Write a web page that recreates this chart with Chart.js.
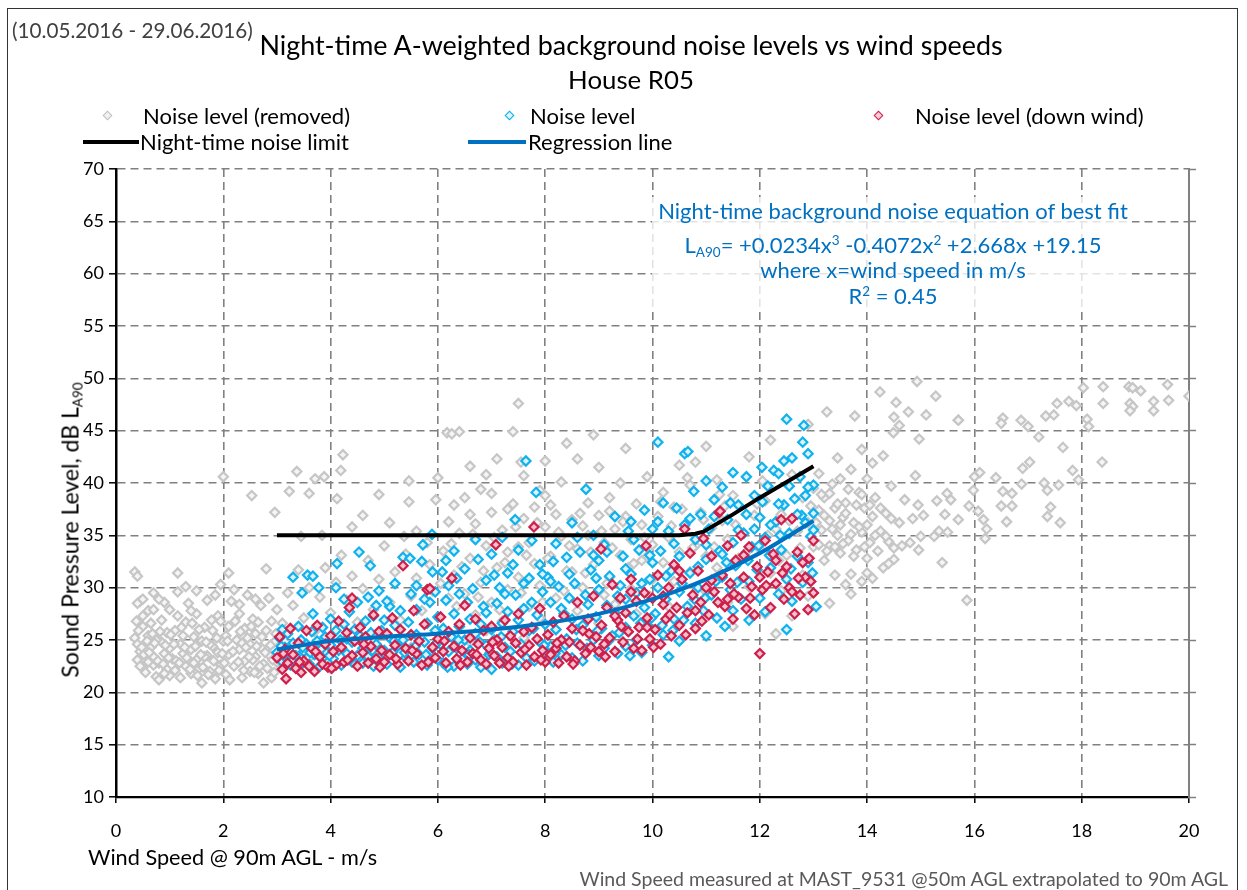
<!DOCTYPE html>
<html>
<head>
<meta charset="utf-8">
<script src="https://cdn.jsdelivr.net/npm/chart.js@4.4.1/dist/chart.umd.min.js"></script>
<style>
  html,body{margin:0;padding:0;background:#fff;}
  body{width:1247px;height:890px;position:relative;overflow:hidden;font-family:Lato,"Open Sans",sans-serif;}
  #frame{position:absolute;left:7px;top:8px;width:1231px;height:900px;border:1.5px solid #333;box-sizing:border-box;}
  #c{position:absolute;left:0;top:0;}
  .t{position:absolute;white-space:nowrap;color:#000;line-height:1;}
  .lg{position:absolute;white-space:nowrap;font-size:22px;line-height:1;}
  .dia{position:absolute;width:5px;height:5px;border:1.7px solid;transform:rotate(45deg);}
  .ln{position:absolute;height:4px;}
  #annbox{position:absolute;left:652px;top:197px;width:480px;height:112px;background:rgba(255,255,255,0.78);}
  .ann{position:absolute;left:620px;width:546px;text-align:center;color:#0070C0;font-size:22px;line-height:1;white-space:nowrap;}
  sub,sup{font-size:13.5px;line-height:0;position:relative;vertical-align:baseline;}
  sub{top:0.3em;} sup{top:-0.6em;}
</style>
</head>
<body>
<div id="frame"></div>
<canvas id="c" width="1247" height="890"></canvas>

<div class="t" style="left:12px;top:20px;font-size:20.7px;color:#404040;">(10.05.2016 - 29.06.2016)</div>
<div class="t" style="left:0;width:1262px;text-align:center;top:31.5px;font-size:26.9px;">Night-time A-weighted background noise levels vs wind speeds</div>
<div class="t" style="left:0;width:1262px;text-align:center;top:67px;font-size:25.8px;">House R05</div>

<div class="dia" style="left:104px;top:112px;border-color:#BFBFBF;background:#f2f2f2;"></div>
<div class="lg" style="left:143px;top:105px;">Noise level (removed)</div>
<div class="dia" style="left:506px;top:112px;border-color:#00B0F0;background:#dff4fc;"></div>
<div class="lg" style="left:530px;top:105px;">Noise level</div>
<div class="dia" style="left:875px;top:112px;border-color:#D0204C;background:#f6cbd6;"></div>
<div class="lg" style="left:915px;top:105px;">Noise level (down wind)</div>
<div class="ln" style="left:83px;top:140px;width:56px;background:#000;"></div>
<div class="lg" style="left:140px;top:131px;">Night-time noise limit</div>
<div class="ln" style="left:468px;top:140px;width:58px;background:#0070C0;"></div>
<div class="lg" style="left:528px;top:131px;">Regression line</div>

<div id="annbox"></div>
<div class="ann" style="top:200px;">Night-time background noise equation of best fit</div>
<div class="ann" style="top:234px;">L<sub>A90</sub>= +0.0234x<sup>3</sup> -0.4072x<sup>2</sup> +2.668x +19.15</div>
<div class="ann" style="top:259px;">where x=wind speed in m/s</div>
<div class="ann" style="top:285px;">R<sup>2</sup> = 0.45</div>

<div class="t" style="left:70px;top:530px;transform:translate(-50%,-50%) rotate(-90deg);font-size:23px;">Sound Pressure Level, dB L<sub>A90</sub></div>
<div class="t" style="left:88px;top:847px;font-size:21.7px;">Wind Speed @ 90m AGL - m/s</div>
<div class="t" style="right:19px;top:869px;font-size:19.5px;color:#595959;">Wind Speed measured at MAST_9531 @50m AGL extrapolated to 90m AGL</div>

<script>
// ---------- data ----------
const xTicks = [0,2,4,6,8,10,12,14,16,18,20];
const yTicks = [10,15,20,25,30,35,40,45,50,55,60,65,70];

const removedPts = [
[0.35,31.5],[0.4,31.1],[0.45,28.7],[0.4,28.5],[0.5,28.9],[0.35,25.2],[0.4,24.6],[0.45,23.9],[0.4,23.1],[0.5,22.4],[0.55,21.9],[0.5,26.3],[0.6,25.4],[0.6,27.8],[0.65,24.3],[0.7,23.4],[0.7,22.6],[0.75,21.5],[0.8,21.2],[0.8,22.8],[0.85,24.8],[0.85,26.9],[0.9,23.7],[0.95,22.2],[0.95,25.7],[1.0,24.2],[1.0,21.6],[0.55,23.0],[0.65,26.6],[0.75,25.0],[0.9,28.6],[0.9,21.8],[0.6,22.9],[0.45,22.5],[0.7,27.9],[0.8,28.9],
[1.05,23.2],[1.1,22.1],[1.1,25.9],[1.15,31.4],[1.15,29.6],[1.2,24.6],[1.2,21.4],[1.25,23.7],[1.3,26.7],[1.3,22.5],[1.35,28.5],[1.4,24.1],[1.4,21.8],[1.45,25.3],[1.5,23.1],[1.5,27.5],[1.55,22.3],[1.6,24.9],[1.6,20.9],[1.65,26.2],[1.7,23.5],[1.7,28.8],[1.75,22.0],[1.8,24.4],[1.8,25.9],[1.85,21.3],[1.9,23.8],[1.9,27.3],[1.95,22.6],[2.0,24.9],[1.15,27.3],[1.25,25.4],[1.45,22.8],[1.55,26.0],[1.65,23.4],[1.75,24.6],[1.95,26.8],[1.85,29.3],[1.5,29.7],[1.3,30.1],
[2.0,40.6],[2.05,21.7],[2.1,23.6],[2.1,26.3],[2.1,31.4],[2.15,28.7],[2.2,22.5],[2.25,25.0],[2.3,24.1],[2.3,27.5],[2.35,21.4],[2.4,23.0],[2.4,26.1],[2.45,29.3],[2.5,24.6],[2.5,22.0],[2.53,38.8],[2.55,27.0],[2.6,23.4],[2.6,25.6],[2.65,21.8],[2.7,24.3],[2.7,28.3],[2.75,22.7],[2.8,25.9],[2.8,31.8],[2.85,23.6],[2.9,21.4],[2.9,26.8],[2.95,24.8],[2.96,37.2],[3.0,22.9],[3.0,27.9],[2.2,29.8],[2.35,24.7],[2.45,25.2],[2.65,26.7],[2.85,29.0],[2.05,25.4],[2.55,23.1],[2.75,20.9],[2.95,21.9],
[0.38,26.8],[0.42,25.9],[0.48,24.3],[0.52,23.6],[0.58,24.9],[0.62,23.8],[0.68,25.6],[0.72,24.7],[0.78,23.0],[0.82,25.8],[0.88,22.7],[0.92,24.5],[0.98,23.3],[1.02,25.5],[1.08,24.6],[1.12,23.0],[1.18,22.8],[1.22,26.2],[1.28,24.3],[1.32,23.3],[1.38,22.2],[1.42,26.6],[1.48,24.4],[1.52,21.6],[1.58,23.6],[1.62,22.4],[1.68,24.8],[1.72,21.7],[1.78,26.9],[1.82,23.0],[1.88,25.2],[1.92,22.1],[1.98,23.7],[2.02,22.8],[2.08,24.9],[2.12,21.2],[2.18,23.9],[2.22,26.8],[2.28,22.9],[2.32,25.8],[2.38,22.1],[2.42,24.3],[2.48,23.4],[2.52,26.3],[2.58,21.9],[2.62,24.4],[2.68,22.5],[2.72,25.3],[2.78,23.8],[2.82,22.3],[2.88,24.5],[2.92,23.1],[2.98,25.6],[0.5,27.3],[1.0,27.9],[1.4,27.8],[2.3,28.4],[2.6,28.9],[0.7,29.5],[1.95,30.3],
[3.23,39.2],[3.37,41.1],[3.45,34.9],[3.6,39.0],[3.71,40.4],[3.84,35.0],[3.88,40.6],[4.12,38.5],[4.19,41.2],[4.23,42.7],[4.9,38.9],[5.37,34.9],[5.46,40.2],[5.46,38.2],[5.6,35.4],[5.85,32.2],[5.96,38.4],[3.1,26.6],[3.2,29.5],[3.3,28.3],[3.4,31.7],[3.5,27.1],[3.6,30.0],[3.7,25.8],[3.8,29.1],[3.9,31.9],[4.0,27.6],[4.1,30.5],[4.2,33.1],[4.3,28.8],[4.4,31.1],[4.5,26.7],[4.6,29.9],[4.7,32.6],[4.8,27.9],[4.9,30.8],[5.0,34.0],[5.1,28.6],[5.2,31.5],[5.3,26.9],[5.4,33.2],[5.5,29.2],[5.6,30.9],[5.7,27.8],[5.8,34.3],[5.9,29.7],[4.4,35.8],[4.6,36.9],[5.1,36.2],[3.3,22.5],[3.6,23.3],[4.0,22.3],[4.5,23.5],[5.0,22.8],[5.5,24.3],
[6.17,44.8],[6.26,44.7],[6.2,36.3],[6.1,33.5],[6.3,31.2],[6.4,35.2],[6.5,29.4],[6.5,38.6],[6.6,32.8],[6.7,27.4],[6.7,36.1],[6.8,30.5],[6.9,34.0],[6.9,40.8],[7.0,28.6],[7.0,37.2],[7.1,31.9],[7.2,35.5],[7.3,29.8],[7.3,33.4],[7.4,38.0],[7.4,44.9],[7.5,47.6],[7.5,31.0],[7.6,36.6],[7.7,28.2],[7.7,34.3],[7.8,32.3],[7.9,39.3],[7.9,30.2],[8.0,35.8],[8.1,33.0],[8.1,37.9],[8.2,29.0],[8.3,34.9],[8.3,40.1],[8.4,31.6],[8.5,36.5],[8.6,42.3],[8.6,33.7],[8.7,30.0],[8.8,38.1],[8.8,35.0],[8.9,32.2],[9.0,36.9],[9.0,41.5],[9.1,34.3],[9.2,31.0],[9.2,38.6],[9.3,35.6],[9.4,33.1],[9.4,40.0],[9.5,36.8],[9.6,29.9],[9.6,34.6],[9.7,38.0],[9.8,32.6],[9.8,36.0],[9.9,40.6],[10.0,34.1],[10.0,30.8],[6.4,26.3],[6.6,24.8],[6.9,25.9],[7.2,26.8],[7.6,25.2],[7.9,27.1],[8.2,26.0],[8.6,27.8],[9.0,26.6],[9.3,28.4],[9.7,27.5],[6.0,40.5],[6.6,41.6],[7.1,42.3],[8.4,43.8],[8.9,44.6],[9.5,43.3],[6.8,39.4],[7.6,40.7],[8.0,42.1],[8.2,37.0],[8.5,31.5],[9.1,29.3],[7.3,37.5],[6.3,37.9],[6.2,29.0],[7.5,33.9],[8.7,35.9],[9.9,33.0],[7.55,42.0],[6.4,44.9],
[6.05,30.4],[6.25,34.2],[6.45,32.0],[6.65,35.1],[6.85,31.6],[7.05,34.8],[7.25,32.4],[7.45,35.8],[7.65,33.1],[7.85,36.2],[8.05,32.8],[8.25,35.3],[8.45,34.0],[8.65,37.1],[8.85,33.4],[9.05,35.4],[9.25,33.8],[9.45,36.3],[9.65,32.3],[9.85,34.8],[6.35,28.2],[6.75,29.1],[7.15,27.9],[7.55,29.5],[7.95,28.6],[8.35,29.7],[8.75,31.4],[9.15,30.4],[9.55,31.9],[9.95,29.2],[7.0,39.0],[8.0,38.8],[9.2,37.3],[6.6,37.0],[7.8,37.7],
[10.1,36.8],[10.2,32.4],[10.2,39.1],[10.3,34.8],[10.4,30.6],[10.4,37.7],[10.5,41.7],[10.5,33.4],[10.6,35.9],[10.7,31.5],[10.7,39.8],[10.8,34.0],[10.9,37.2],[11.0,29.6],[11.0,33.0],[11.1,35.7],[11.2,40.3],[11.2,31.9],[11.3,36.4],[11.4,28.6],[11.4,34.6],[11.5,38.8],[11.6,32.8],[11.7,35.2],[11.8,30.1],[11.8,42.5],[11.9,36.9],[12.0,33.7],[12.1,27.5],[12.1,38.3],[12.2,31.4],[12.3,35.6],[12.4,29.7],[12.4,37.0],[12.5,33.1],[12.6,40.8],[12.6,27.3],[12.7,35.4],[12.8,31.2],[12.8,38.6],[12.9,29.2],[12.9,36.2],[13.0,33.9],[13.0,39.5],[11.0,43.5],[12.2,44.1],[12.9,45.6],[10.3,28.2],[11.5,26.3],[12.3,25.6],[10.8,42.0],
[10.15,38.2],[10.35,35.9],[10.55,37.5],[10.75,33.8],[10.95,36.5],[11.15,33.9],[11.35,37.8],[11.55,36.0],[11.75,33.4],[11.95,38.0],[12.15,35.0],[12.35,32.6],[12.55,36.4],[12.75,33.8],[12.95,37.8],[11.25,38.9],[12.05,40.2],[10.65,40.5],
[13.1,37.4],[13.1,40.9],[13.15,35.5],[13.2,32.6],[13.2,38.6],[13.25,46.8],[13.3,36.4],[13.3,34.0],[13.35,39.9],[13.4,31.2],[13.4,37.6],[13.45,35.0],[13.5,33.3],[13.5,40.4],[13.55,36.7],[13.6,30.3],[13.6,38.1],[13.65,34.5],[13.7,31.3],[13.7,41.3],[13.75,36.2],[13.77,46.4],[13.8,33.6],[13.85,39.1],[13.9,30.6],[13.9,35.3],[13.95,37.6],[14.0,32.8],[14.0,40.4],[14.05,34.3],[14.1,30.9],[14.1,36.8],[14.15,38.6],[14.2,33.5],[14.24,48.7],[14.25,35.4],[14.3,42.6],[14.3,31.9],[14.35,37.1],[14.4,34.4],[14.45,39.7],[14.49,44.8],[14.5,46.3],[14.5,32.7],[14.54,47.7],[14.6,36.2],[14.6,45.5],[14.65,34.0],[14.7,38.4],[14.77,46.8],[14.8,34.3],[14.85,36.6],[14.9,40.7],[14.93,49.7],[14.97,44.2],[14.95,37.9],[15.0,34.9],[15.05,36.9],[15.1,46.5],[15.25,34.9],[15.3,38.3],[15.34,35.4],[15.4,32.4],[15.45,37.0],[15.49,39.0],[15.5,35.3],[15.56,38.4],[15.7,36.5],[15.7,46.0],[15.86,28.8],[15.9,37.8],[15.98,39.3],[16.0,40.6],[16.07,37.3],[16.17,36.5],[16.23,35.6],[16.2,34.7],[13.3,28.5],[13.7,29.4],[14.0,31.4],[13.45,42.4],[13.9,43.2],[14.1,41.9],[14.4,32.3],[14.5,33.8],[14.96,33.6],
[13.05,36.2],[13.1,34.1],[13.15,38.9],[13.2,36.9],[13.25,33.5],[13.3,39.0],[13.35,35.6],[13.4,33.9],[13.45,38.0],[13.5,36.0],[13.55,34.2],[13.6,37.1],[13.65,39.4],[13.7,35.1],[13.75,33.0],[13.8,37.9],[13.85,35.8],[13.9,38.9],[13.95,33.9],[14.0,36.0],[14.05,37.9],[14.15,35.0],[14.25,37.6],[14.35,34.9],[14.45,36.6],
[16.1,41.0],[16.4,40.5],[16.53,39.2],[16.7,39.0],[16.5,37.8],[16.7,37.8],[16.6,36.3],[16.88,39.9],[16.53,46.2],[16.5,45.7],[16.87,46.0],[17.0,45.4],[17.2,44.4],[17.33,46.4],[17.48,46.5],[17.54,47.6],[17.76,47.8],[17.9,47.4],[16.9,41.4],[17.03,42.0],[17.65,43.4],[17.83,41.2],[17.94,40.3],[17.3,40.0],[17.57,39.8],[17.36,39.3],[17.42,37.7],[17.36,36.8],[17.6,36.2],[15.28,48.3],[15.7,46.0],
[18.03,49.1],[18.1,46.1],[18.13,45.4],[18.4,49.2],[18.4,47.6],[18.38,42.0],[18.88,49.2],[18.95,49.1],[19.1,48.8],[18.9,47.6],[18.95,47.3],[18.9,46.9],[19.34,47.8],[19.34,46.9],[19.6,49.4],[19.62,47.9],[20.0,48.3]
];

const noisePts = [
[3.0,23.8],[3.05,25.2],[3.1,22.9],[3.1,26.0],[3.15,24.3],[3.2,23.1],[3.2,25.6],[3.25,22.6],[3.3,31.0],[3.3,24.7],[3.35,23.5],[3.4,26.3],[3.4,22.4],[3.45,25.0],[3.47,29.5],[3.5,23.9],
[3.55,24.6],[3.57,31.2],[3.6,22.7],[3.65,25.8],[3.67,31.1],[3.67,27.5],[3.7,23.6],[3.75,24.9],[3.78,30.0],[3.8,22.5],[3.85,26.2],[3.9,23.9],[3.9,25.3],[3.95,22.9],[4.0,24.5],[4.0,27.0],
[4.05,23.2],[4.1,25.9],[4.1,30.0],[4.12,32.3],[4.15,24.0],[4.2,22.6],[4.25,26.5],[4.3,23.7],[4.3,25.1],[4.35,27.7],[4.4,22.9],[4.4,24.8],[4.45,26.0],[4.5,23.5],[4.5,28.6],
[4.53,33.4],[4.55,25.4],[4.6,22.8],[4.6,24.2],[4.65,26.8],[4.7,23.4],[4.74,32.1],[4.75,25.7],[4.8,22.5],[4.8,27.3],[4.85,24.6],[4.9,29.7],[4.9,23.3],[4.95,25.9],[5.0,24.0],[5.0,26.9],
[5.05,22.7],[5.1,25.2],[5.1,28.2],[5.15,23.8],[5.2,26.4],[5.25,24.4],[5.3,22.4],[5.3,27.8],[5.35,32.9],[5.35,25.0],[5.4,23.3],[5.45,26.7],[5.48,32.8],[5.5,24.1],[5.5,29.4],
[5.55,22.9],[5.6,25.5],[5.6,27.9],[5.65,23.6],[5.7,32.5],[5.72,34.1],[5.75,24.8],[5.8,26.6],[5.8,22.6],[5.85,28.6],[5.89,35.1],[5.9,31.5],[5.9,24.2],[5.95,25.9],[6.0,23.1],[6.0,27.2],
[6.05,24.6],[6.08,31.5],[6.1,22.8],[6.1,26.1],[6.15,28.8],[6.2,23.9],[6.2,30.2],[6.25,25.3],[6.3,22.5],[6.3,27.5],[6.35,24.2],[6.4,29.4],[6.4,26.3],[6.45,23.2],[6.5,25.0],[6.5,31.8],
[6.55,22.7],[6.6,27.0],[6.6,24.0],[6.65,29.9],[6.7,25.6],[6.7,23.1],[6.75,32.7],[6.8,26.5],[6.8,22.4],[6.85,28.2],[6.9,24.5],[6.9,30.7],[6.95,23.6],[7.0,26.0],[7.0,33.2],[7.0,22.2],
[7.05,25.0],[7.1,28.5],[7.1,23.4],[7.15,30.0],[7.2,26.6],[7.2,22.8],[7.25,24.3],[7.3,31.4],[7.3,27.7],[7.35,23.9],[7.4,25.8],[7.44,36.5],[7.45,29.3],[7.5,22.6],[7.5,33.6],[7.5,26.9],
[7.55,24.6],[7.6,28.0],[7.64,42.1],[7.65,23.3],[7.7,30.9],[7.7,25.9],[7.75,34.5],[7.8,23.0],[7.83,39.1],[7.85,27.4],[7.9,24.8],[7.9,32.2],[7.95,29.6],[8.0,23.8],[8.0,26.5],
[8.05,31.0],[8.1,24.4],[8.1,28.6],[8.15,22.9],[8.2,34.2],[8.2,26.0],[8.25,30.1],[8.3,23.6],[8.35,27.5],[8.4,32.9],[8.4,25.1],[8.45,29.0],[8.5,23.3],[8.5,36.2],[8.5,27.0],
[8.55,30.4],[8.6,24.7],[8.65,33.4],[8.7,26.4],[8.7,23.0],[8.76,39.4],[8.8,28.4],[8.85,31.7],[8.9,25.0],[8.9,35.0],[8.95,27.2],[9.0,23.5],[9.0,29.8],[9.0,32.6],
[9.05,26.1],[9.1,34.1],[9.1,24.2],[9.15,28.3],[9.2,31.1],[9.25,25.4],[9.3,36.8],[9.3,27.6],[9.35,23.7],[9.4,30.2],[9.45,33.0],[9.5,26.2],[9.5,28.9],[9.5,24.4],
[9.55,35.4],[9.6,31.3],[9.65,27.3],[9.7,25.0],[9.7,29.5],[9.75,33.6],[9.8,23.8],[9.85,37.4],[9.85,28.1],[9.9,26.4],[9.95,30.8],[10.0,24.5],[10.0,32.4],[10.0,35.6],
[10.1,43.9],[10.05,27.5],[10.1,30.0],[10.15,33.5],[10.2,38.1],[10.2,25.5],[10.25,28.9],[10.3,23.4],[10.3,35.4],[10.35,31.6],[10.4,27.0],[10.45,37.6],[10.5,29.6],[10.5,33.0],[10.5,24.9],
[10.6,42.8],[10.66,43.0],[10.6,36.0],[10.65,28.2],[10.7,31.4],[10.77,39.2],[10.8,26.6],[10.8,34.6],[10.85,30.0],[10.9,37.0],[10.95,27.8],[11.0,40.2],[11.0,32.7],[11.0,25.4],
[11.05,35.6],[11.1,29.3],[11.15,38.4],[11.2,27.1],[11.25,33.5],[11.3,31.0],[11.3,39.6],[11.35,26.3],[11.4,36.5],[11.45,29.8],[11.5,41.0],[11.5,34.3],[11.5,27.8],
[11.55,32.1],[11.6,37.9],[11.65,28.9],[11.7,35.2],[11.75,40.6],[11.8,30.6],[11.8,26.9],[11.85,33.9],[11.9,38.8],[11.95,31.7],[12.0,29.0],[12.0,36.7],[12.04,41.5],
[12.1,34.8],[12.1,27.7],[12.15,39.7],[12.2,31.9],[12.26,41.2],[12.3,36.3],[12.35,40.9],[12.35,29.4],[12.4,33.6],[12.45,42.1],[12.45,37.9],[12.5,26.0],[12.5,30.8],[12.5,46.1],
[12.55,35.2],[12.6,42.4],[12.6,28.7],[12.65,38.5],[12.7,33.0],[12.75,40.6],[12.8,43.9],[12.82,45.5],[12.8,30.5],[12.85,38.8],[12.85,36.2],[12.9,42.8],[12.9,32.4],[12.95,34.9],[13.0,37.1],[13.0,39.8],[13.05,28.2],[13.0,35.5],
[3.08,24.4],[3.28,23.0],[3.48,24.3],[3.62,23.8],[3.82,24.1],[3.98,23.5],[4.18,25.0],[4.38,23.2],[4.58,25.0],[4.78,24.0],[4.98,22.9],[5.18,24.9],[5.38,23.8],[5.58,24.4],[5.78,23.6],[5.98,24.7],[6.18,22.4],[6.38,25.0],[6.58,23.6],[6.78,24.8],[6.98,23.8],[7.18,25.3],[7.38,22.7],[7.58,23.9],[7.78,26.1],[7.98,24.5],[8.18,23.7],[8.38,24.5],[8.58,26.0],[8.78,24.2],[8.98,25.9],[9.18,24.9],[9.38,25.7],[9.58,23.5],[9.78,26.6],[9.98,27.1],[10.18,26.4],[10.38,25.9],[10.58,26.9],[10.78,28.9],[10.98,29.0],[11.18,30.6],[11.38,32.4],[11.58,30.5],[11.78,32.6],[11.98,34.0],[12.18,33.1],[12.38,35.0],[12.58,31.8],[12.78,36.9],[12.98,31.4],[6.3,33.5],[7.2,34.8],[8.1,30.6],[8.9,33.1],[9.6,36.3],[5.2,30.4],[4.7,29.1],
[5.6,30.2],[5.75,28.9],[5.95,29.6],[6.15,32.6],[6.35,30.9],[6.55,28.6],[6.7,34.6],[6.9,27.6],[7.05,31.2],[7.25,29.4],[7.4,32.2],[7.6,30.4],[7.75,28.6],[7.95,31.3],[8.15,32.5],[8.3,28.0],[8.45,31.3],[8.6,34.8],[8.75,29.3],[8.95,30.9],[9.15,33.4],[9.35,29.2],[9.5,31.8],[9.65,34.6],[9.8,30.4],[9.95,33.1],[10.1,36.3],[10.25,31.1],[10.4,34.2],[10.55,30.4],[10.7,36.6],[10.85,32.0],[11.0,34.1],[11.15,36.8],[11.3,33.2],[11.45,38.1],[11.6,35.5],[11.75,37.0],[11.9,35.6],[12.05,38.2],[12.2,36.0],[12.35,38.0],[12.55,39.7],[12.7,37.0],[12.9,39.6],[5.05,28.7],[4.85,28.3],[4.25,28.9]
];

const downWindPts = [
[3.0,23.3],[3.05,25.3],[3.1,22.2],[3.15,24.1],[3.17,21.3],[3.2,22.8],[3.25,26.1],[3.3,23.6],[3.35,22.3],[3.4,24.7],[3.45,21.9],[3.5,23.0],[3.55,25.9],[3.6,22.5],[3.65,24.2],[3.7,22.0],[3.75,26.4],[3.8,23.4],[3.85,22.7],[3.9,24.6],[3.95,22.4],[4.0,25.4],
[4.05,23.9],[4.1,22.6],[4.15,26.8],[4.2,24.3],[4.25,22.9],[4.3,25.7],[4.35,28.1],[4.4,29.0],[4.4,23.5],[4.45,24.9],[4.5,22.5],[4.55,26.2],[4.6,23.8],[4.65,25.3],[4.7,22.8],[4.75,24.4],[4.8,27.4],[4.85,23.2],[4.9,25.8],[4.95,24.0],[5.0,22.9],
[5.05,25.6],[5.1,23.6],[5.15,27.1],[5.2,24.5],[5.25,22.7],[5.3,26.0],[5.35,32.1],[5.4,24.2],[5.45,23.0],[5.5,25.5],[5.55,27.8],[5.6,23.7],[5.65,24.9],[5.7,22.6],[5.75,26.5],[5.8,29.8],[5.85,29.9],[5.9,24.3],[5.95,23.3],[6.0,25.1],
[6.05,27.2],[6.1,23.9],[6.15,22.8],[6.2,25.8],[6.26,30.9],[6.3,24.4],[6.35,23.2],[6.4,26.5],[6.45,24.0],[6.5,28.3],[6.55,22.9],[6.6,25.2],[6.65,23.7],[6.7,27.0],[6.75,24.6],[6.8,23.1],[6.85,25.9],[6.9,22.7],[6.95,24.2],[7.0,26.3],
[7.05,23.5],[7.08,34.1],[7.1,25.0],[7.15,22.8],[7.2,24.3],[7.25,26.9],[7.3,23.3],[7.35,25.4],[7.4,22.9],[7.45,24.7],[7.5,27.5],[7.55,23.8],[7.6,25.8],[7.65,22.6],[7.7,24.5],[7.75,26.2],[7.79,35.8],[7.8,23.4],[7.85,25.1],[7.9,28.0],[7.95,24.0],[8.0,22.9],
[8.05,25.5],[8.1,23.6],[8.15,26.7],[8.2,24.2],[8.25,22.8],[8.3,25.0],[8.35,27.3],[8.4,23.4],[8.45,24.8],[8.5,26.1],[8.55,23.0],[8.6,28.6],[8.65,24.5],[8.7,25.9],[8.75,23.7],[8.8,27.0],[8.85,24.3],[8.9,29.2],[8.95,25.3],[9.0,23.9],
[9.04,33.7],[9.05,26.4],[9.1,24.6],[9.15,28.1],[9.2,25.2],[9.25,30.3],[9.3,23.9],[9.35,26.9],[9.4,29.0],[9.45,24.8],[9.5,27.6],[9.55,25.8],[9.6,30.8],[9.65,24.2],[9.7,28.7],[9.75,26.2],[9.8,24.0],[9.85,29.5],[9.88,34.0],[9.9,27.1],[9.95,25.1],[10.0,29.0],
[10.05,26.0],[10.1,31.2],[10.15,24.6],[10.2,28.4],[10.25,27.0],[10.3,30.0],[10.35,25.4],[10.4,32.2],[10.45,28.1],[10.5,26.4],[10.55,30.8],[10.6,35.6],[10.65,27.6],[10.7,33.3],[10.75,29.3],[10.8,26.1],[10.85,31.6],[10.9,28.6],[10.95,34.7],[11.0,30.0],
[11.05,27.4],[11.1,33.0],[11.15,29.6],[11.24,37.2],[11.26,37.3],[11.3,31.2],[11.35,28.2],[11.4,34.0],[11.45,30.4],[11.5,27.0],[11.55,32.6],[11.6,29.1],[11.65,35.0],[11.7,31.0],[11.75,28.0],[11.8,33.9],[11.85,30.1],[11.9,27.4],[11.95,32.0],[12.0,23.7],
[12.05,29.8],[12.1,34.5],[12.15,31.5],[12.2,28.1],[12.25,33.2],[12.3,30.4],[12.4,36.5],[12.45,28.9],[12.5,32.0],[12.55,30.0],[12.6,36.6],[12.65,27.5],[12.7,33.4],[12.75,29.3],[12.8,32.4],[12.85,31.0],[12.9,27.9],[12.95,30.6],[13.0,34.5],[13.0,29.5],
[3.12,23.7],[3.42,22.9],[3.72,23.9],[4.02,22.3],[4.32,23.1],[4.62,24.6],[4.92,22.4],[5.22,23.2],[5.52,24.0],[5.82,22.9],[6.12,24.9],[6.42,22.6],[6.72,23.6],[7.02,24.8],[7.32,22.5],[7.62,24.1],[7.92,23.1],[8.22,24.7],[8.52,22.7],[8.82,25.6],[9.12,23.4],[9.42,26.3],[9.72,25.1],[10.02,24.3],[10.32,27.4],[10.62,25.5],[10.92,26.8],[11.22,28.6],[11.52,29.4],[11.82,29.0],[12.12,30.2],[12.42,31.4],[12.72,30.9],[12.92,32.8],
[9.3,27.3],[9.6,29.6],[9.9,26.2],[10.2,29.2],[10.5,31.6],[10.8,27.8],[11.1,30.7],[11.4,28.9],[11.7,33.1],[12.0,31.0],[12.3,32.6],[12.6,29.6]
];

const limitX = [3, 10.5, 10.8, 10.95, 11.5, 12.0, 12.5, 13.0];
const limitY = [35, 35, 35.15, 35.35, 37.0, 38.6, 40.1, 41.6];

const regressionX = [3, 4, 5, 6, 7, 8, 9, 10, 11, 12, 13];
const regressionY = [24.1, 24.9, 25.3, 25.6, 26.0, 26.6, 27.5, 28.9, 30.8, 33.3, 36.4];

// ---------- chart ----------
const toXY = arr => arr.map(p => ({x: p[0], y: p[1]}));
const zipXY = (xs, ys) => xs.map((x, i) => ({x, y: ys[i]}));

const TICKFONT = '"Liberation Sans Narrow", Lato, sans-serif';

const markerBase = {pointStyle: 'rectRot', pointRadius: 4.6, pointHoverRadius: 4.6, pointBorderWidth: 2.2, showLine: false};

new Chart(document.getElementById('c'), {
  type: 'scatter',
  data: {
    datasets: [
      {label: 'Night-time noise limit', data: zipXY(limitX, limitY), showLine: true, borderColor: '#000', borderWidth: 4, pointRadius: 0, tension: 0, order: 0},
      {label: 'Regression line', data: zipXY(regressionX, regressionY), showLine: true, borderColor: '#0070C0', borderWidth: 4, pointRadius: 0, cubicInterpolationMode: 'monotone', order: 0},
      Object.assign({label: 'Noise level (down wind)', data: toXY(downWindPts), borderColor: '#CE1F4B', backgroundColor: '#f4c2cf', order: 1}, markerBase),
      Object.assign({label: 'Noise level', data: toXY(noisePts), borderColor: '#0FB2EE', backgroundColor: '#dbf2fb', order: 2}, markerBase),
      Object.assign({label: 'Noise level (removed)', data: toXY(removedPts), borderColor: '#C6C6C6', backgroundColor: '#f5f5f5', order: 3}, markerBase)
    ]
  },
  options: {
    responsive: false,
    animation: false,
    events: [],
    layout: {padding: {left: 0, top: 169, right: 50, bottom: 0}},
    plugins: {legend: {display: false}, title: {display: false}, tooltip: {enabled: false}},
    scales: {
      x: {
        type: 'linear', min: 0, max: 20,
        afterBuildTicks: s => { s.ticks = xTicks.map(v => ({value: v})); },
        afterFit: s => { s.height = 93; },
        ticks: {font: {family: TICKFONT, size: 18}, color: '#000', padding: 17},
        grid: {color: '#808080', lineWidth: 1.6, tickColor: '#000', tickLength: 6, tickWidth: 1.5},
        border: {display: true, color: '#000', width: 2.2, dash: [8, 5]}
      },
      y: {
        type: 'linear', min: 10, max: 70,
        afterBuildTicks: s => { s.ticks = yTicks.map(v => ({value: v})); },
        afterFit: s => { s.width = 116; },
        ticks: {font: {family: TICKFONT, size: 18}, color: '#000', padding: 5},
        grid: {color: '#808080', lineWidth: 1.6, tickColor: '#000', tickLength: 7, tickWidth: 1.5},
        border: {display: true, color: '#000', width: 2.5, dash: [8, 5]}
      },
      y2: {
        type: 'linear', position: 'right', min: 10, max: 70,
        afterBuildTicks: s => { s.ticks = yTicks.map(v => ({value: v})); },
        afterFit: s => { s.width = 8; },
        ticks: {display: false},
        grid: {drawOnChartArea: false, color: '#808080', tickColor: '#808080', tickLength: 7, tickWidth: 1.5},
        border: {display: true, color: '#808080', width: 2}
      }
    }
  }
});
</script>
</body>
</html>
